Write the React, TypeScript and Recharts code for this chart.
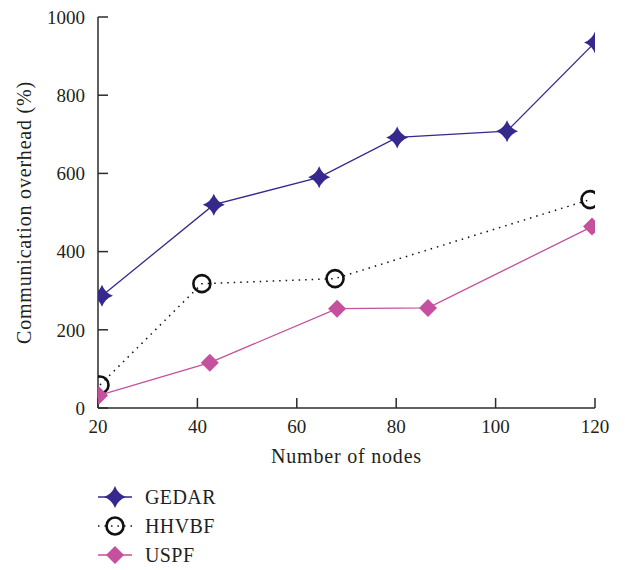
import React from 'react';
import {Legend, Line, LineChart, XAxis, YAxis} from 'recharts';

const FONT = '"Liberation Serif", "DejaVu Serif", serif';
const TEXT = '#231f20';
const AXIS = '#2b2b2b';

const colors = {
    gedar: '#35298d',
    hhvbf: '#111111',
    uspf: '#c5509d',
};

// each series has its own x positions (number of nodes)
const gedarX = [20.8, 43.3, 64.5, 80.2, 102.3, 120];
const gedarY = [287, 520, 590, 692, 708, 935];

const hhvbfX = [20.4, 40.9, 67.7, 119];
const hhvbfY = [59, 318, 331, 533];

const uspfX = [20.2, 42.5, 68.1, 86.4, 119.4];
const uspfY = [32, 116, 254, 256, 464];

const xTicks = [20, 40, 60, 80, 100, 120];
const yTicks = [0, 200, 400, 600, 800, 1000];

const toRows = (xs: number[], ys: number[]) => xs.map((x, i) => ({x, y: ys[i]}));

const gedarData = toRows(gedarX, gedarY);
const hhvbfData = toRows(hhvbfX, hhvbfY);
const uspfData = toRows(uspfX, uspfY);

const Star = ({cx, cy, r = 11, fill}: any) => {
    const k = r * 0.27;
    const d = `M${cx},${cy - r} Q${cx + k},${cy - k} ${cx + r},${cy} Q${cx + k},${cy + k} ${cx},${cy + r} `
        + `Q${cx - k},${cy + k} ${cx - r},${cy} Q${cx - k},${cy - k} ${cx},${cy - r} Z`;
    return <path d={d} fill={fill} stroke="none"/>;
};

const Ring = ({cx, cy, r = 8.5, stroke}: any) => (
    <circle cx={cx} cy={cy} r={r} fill="none" stroke={stroke} strokeWidth={2.6}/>
);

const Diamond = ({cx, cy, r = 9, fill}: any) => (
    <path d={`M${cx},${cy - r} L${cx + r},${cy} L${cx},${cy + r} L${cx - r},${cy} Z`} fill={fill}/>
);

const legendItems = [
    {name: 'GEDAR', color: colors.gedar, dash: undefined, shape: 'star'},
    {name: 'HHVBF', color: colors.hhvbf, dash: '1.5 5', shape: 'ring'},
    {name: 'USPF', color: colors.uspf, dash: undefined, shape: 'diamond'},
];

const LegendBox = () => (
    <svg width={260} height={90}>
        {legendItems.map((it, i) => {
            const cy = 17 + i * 29;
            return (
                <g key={it.name}>
                    <line x1={98} x2={132} y1={cy} y2={cy} stroke={it.color}
                          strokeWidth={it.dash ? 1.5 : 1.3} strokeDasharray={it.dash}/>
                    {it.shape === 'star' && <Star cx={115} cy={cy} fill={it.color}/>}
                    {it.shape === 'ring' && <Ring cx={115} cy={cy} stroke={it.color}/>}
                    {it.shape === 'diamond' && <Diamond cx={115} cy={cy} fill={it.color}/>}
                    <text x={145} y={cy + 7} fontFamily={FONT} fontSize={20} fill={TEXT}
                          letterSpacing={0.4}>{it.name}</text>
                </g>
            );
        })}
    </svg>
);

const tickStyle = {fill: TEXT, fontSize: 19, fontFamily: FONT};

export default function App() {
    return (
        <div style={{position: 'absolute', left: 0, top: 0, width: 625, height: 570, background: 'white'}}>
            <LineChart width={625} height={570} margin={{top: 17, right: 30, bottom: 102, left: 10}}>
                <XAxis
                    type="number"
                    dataKey="x"
                    domain={[20, 120]}
                    ticks={xTicks}
                    allowDataOverflow
                    height={60}
                    tickSize={-10}
                    tickMargin={22}
                    tick={tickStyle}
                    axisLine={{stroke: AXIS, strokeWidth: 1.5}}
                    tickLine={{stroke: AXIS, strokeWidth: 1.5}}
                    label={{
                        value: 'Number of nodes',
                        position: 'insideBottom',
                        offset: 5,
                        style: {fill: TEXT, fontSize: 20, fontFamily: FONT, letterSpacing: 0.8},
                    }}
                />
                <XAxis
                    xAxisId="top"
                    orientation="top"
                    type="number"
                    domain={[20, 120]}
                    ticks={xTicks}
                    allowDataOverflow
                    height={0}
                    tickSize={-10}
                    tick={() => <g/>}
                    axisLine={{stroke: AXIS, strokeWidth: 1.5}}
                    tickLine={{stroke: AXIS, strokeWidth: 1.5}}
                />
                <YAxis
                    type="number"
                    domain={[0, 1000]}
                    ticks={yTicks}
                    allowDataOverflow
                    width={88}
                    tickSize={-10}
                    tickMargin={23}
                    tick={tickStyle}
                    axisLine={{stroke: AXIS, strokeWidth: 1.5}}
                    tickLine={{stroke: AXIS, strokeWidth: 1.5}}
                    label={{
                        value: 'Communication overhead (%)',
                        angle: -90,
                        position: 'insideLeft',
                        offset: 14,
                        style: {fill: TEXT, fontSize: 20, fontFamily: FONT, textAnchor: 'middle', letterSpacing: 0.8},
                    }}
                />
                <YAxis
                    yAxisId="right"
                    orientation="right"
                    type="number"
                    domain={[0, 1000]}
                    ticks={yTicks}
                    allowDataOverflow
                    width={0}
                    tickSize={-10}
                    tick={() => <g/>}
                    axisLine={{stroke: AXIS, strokeWidth: 1.5}}
                    tickLine={{stroke: AXIS, strokeWidth: 1.5}}
                />
                <Legend
                    layout="horizontal"
                    verticalAlign="middle"
                    align="center"
                    wrapperStyle={{left: 0, top: 480, width: 260}}
                    content={() => <LegendBox/>}
                />
                <Line
                    data={hhvbfData}
                    dataKey="y"
                    name="HHVBF"
                    stroke={colors.hhvbf}
                    strokeWidth={1.5}
                    strokeDasharray="1.5 5"
                    isAnimationActive={false}
                    dot={(p: any) => <Ring key={`h${p.index}`} cx={p.cx} cy={p.cy} stroke={colors.hhvbf}/>}
                    activeDot={false}
                />
                <Line
                    data={uspfData}
                    dataKey="y"
                    name="USPF"
                    stroke={colors.uspf}
                    strokeWidth={1.3}
                    isAnimationActive={false}
                    dot={(p: any) => <Diamond key={`u${p.index}`} cx={p.cx} cy={p.cy} fill={colors.uspf}/>}
                    activeDot={false}
                />
                <Line
                    data={gedarData}
                    dataKey="y"
                    name="GEDAR"
                    stroke={colors.gedar}
                    strokeWidth={1.3}
                    isAnimationActive={false}
                    dot={(p: any) => <Star key={`g${p.index}`} cx={p.cx} cy={p.cy} fill={colors.gedar}/>}
                    activeDot={false}
                />
            </LineChart>
        </div>
    );
}
